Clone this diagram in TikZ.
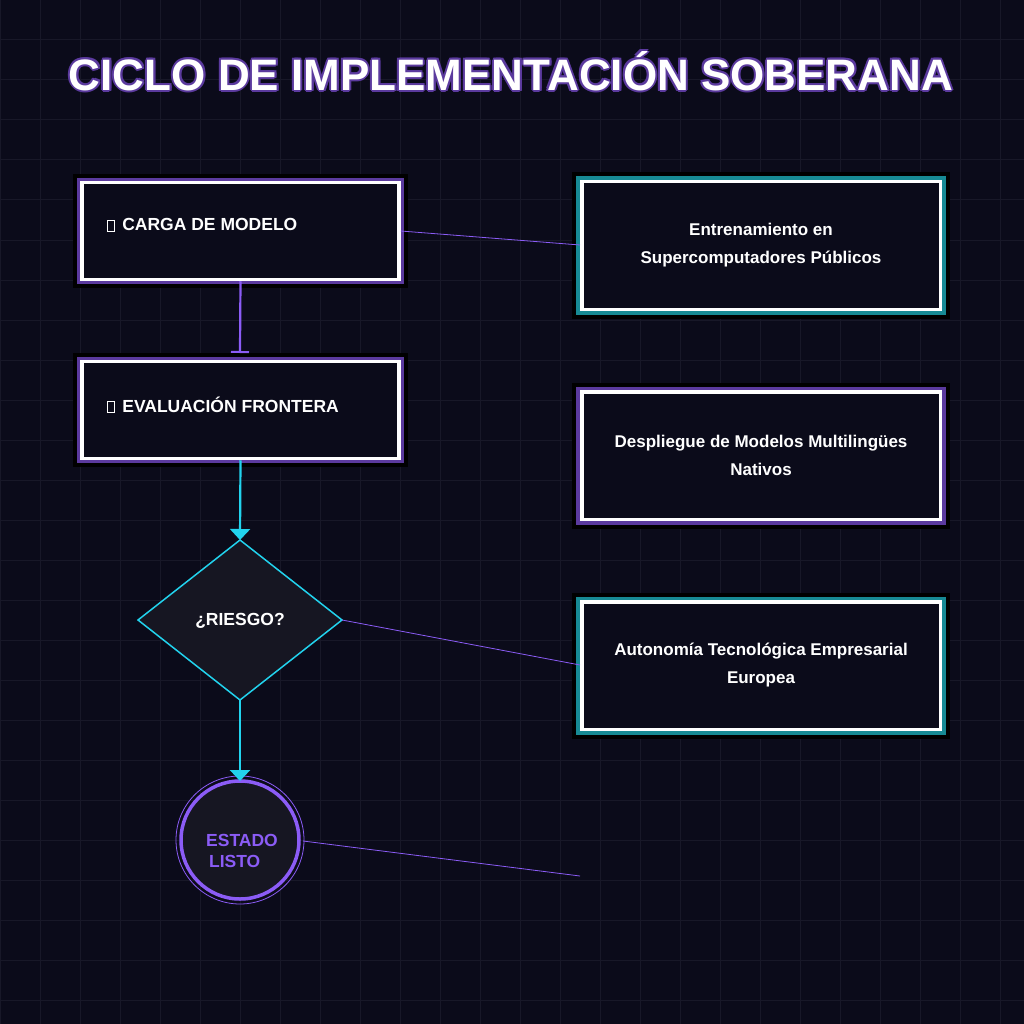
\documentclass[tikz,border=0pt]{standalone}
\usepackage{fontspec}
\setmainfont{Liberation Sans}
\usetikzlibrary{arrows.meta}
\definecolor{bg}{HTML}{0B0B1A}
\definecolor{gridc}{HTML}{181828}
\definecolor{purp}{HTML}{8B5CF6}
\definecolor{dpurp}{HTML}{5B3A9E}
\definecolor{dteal}{HTML}{178A94}
\definecolor{cyanc}{HTML}{22D3EE}
\definecolor{fillc}{HTML}{161622}
\newcommand{\tofu}{\tikz[baseline=0pt]\draw[white,line width=0.8pt](0,0)rectangle(7pt,11pt);\hspace{8pt}}
\tikzset{
 leftbox/.style={draw=white,line width=3.5pt,minimum width=317pt,minimum height=97pt,inner sep=0pt,fill=bg},
 rightbox/.style={draw=white,line width=3.5pt,minimum width=358.5pt,minimum height=127.5pt,inner sep=0pt,fill=bg,align=center,font=\bfseries\fontsize{17}{28}\selectfont,text=white},
 thin/.style={draw=purp,line width=0.8pt},
 lbl/.style={font=\bfseries\fontsize{17.5}{20}\selectfont,text=white,anchor=west},
}
\begin{document}
\begin{tikzpicture}[x=1pt,y=-1pt]
\fill[bg](0,0)rectangle(1024,1024);
\useasboundingbox(0,0)rectangle(1024,1024);
\foreach \i in {0,40,...,1000}{\draw[gridc,line width=1pt](\i,0)--(\i,1024);\draw[gridc,line width=1pt](0,\i)--(1024,\i);}
% title
\foreach \dx/\dy in {-2/0,2/0,0/-2,0/2,-1.5/-1.5,1.5/1.5,-1.5/1.5,1.5/-1.5}
 \node[text=dpurp,font=\bfseries\fontsize{44}{44}\selectfont] at (511+\dx,71+\dy) {CICLO DE IMPLEMENTACIÓN SOBERANA};
\node[text=white,font=\bfseries\fontsize{44}{44}\selectfont] (title) at (511,71) {CICLO DE IMPLEMENTACIÓN SOBERANA};
% left boxes
\foreach \n/\y in {a/231,b/410}{
 \fill[black](73,\y-57)rectangle(408,\y+57);
 \fill[dpurp](77,\y-53)rectangle(404,\y+53);
 \node[leftbox] (\n) at (240.5,\y) {};
}
\node[lbl] at (103,225) {\tofu CARGA DE MODELO};
\node[lbl] at (103,405) {\tofu EVALUACIÓN FRONTERA};
% right boxes
\foreach \y/\c in {245.5/dteal,455.5/dpurp,665.5/dteal}{
 \fill[black](572,\y-73)rectangle(950,\y+73);
 \fill[\c](576,\y-69)rectangle(946,\y+69);
}
\node[rightbox] (r1) at (761,245.5) {Entrenamiento en\\Supercomputadores Públicos};
\node[rightbox] (r2) at (761,455.5) {Despliegue de Modelos Multilingües\\Nativos};
\node[rightbox] (r3) at (761,665.5) {Autonomía Tecnológica Empresarial\\Europea};
% diamond
\draw[cyanc,fill=fillc,line width=1.5pt](240,540)--(342,620)--(240,700)--(138,620)--cycle;
\coordinate (dt) at (240,540);\coordinate (db) at (240,700);\coordinate (dr) at (342,620);
\node[text=white,font=\bfseries\fontsize{17.5}{20}\selectfont] at (240,621) {¿RIESGO?};
% circle
\node[circle,draw=purp,line width=0.8pt,minimum size=128pt] at (240,840) {};
\node[circle,draw=purp,fill=fillc,line width=3.5pt,minimum size=118pt] (c) at (240,840) {};
\node[align=left,text=purp,font=\bfseries\fontsize{17.5}{21}\selectfont] at (242,851) {ESTADO\\ \,LISTO};
% connectors
\draw[purp,line width=2.2pt,shorten >=-2pt,-{Bar[width=18pt,line width=2pt]}](a.south)--(240,351);
\draw[cyanc,line width=2.2pt,-{Triangle[width=20pt,length=11pt]}](b.south)--(dt);
\draw[cyanc,line width=2.2pt,-{Triangle[width=20pt,length=11pt]}](db)--(240,781);
\draw[thin](a.east)--(580,245);
\draw[thin](dr)--(580,665);
\coordinate (e) at (580,876);
\draw[thin](303,841)--(e);
\end{tikzpicture}
\end{document}
